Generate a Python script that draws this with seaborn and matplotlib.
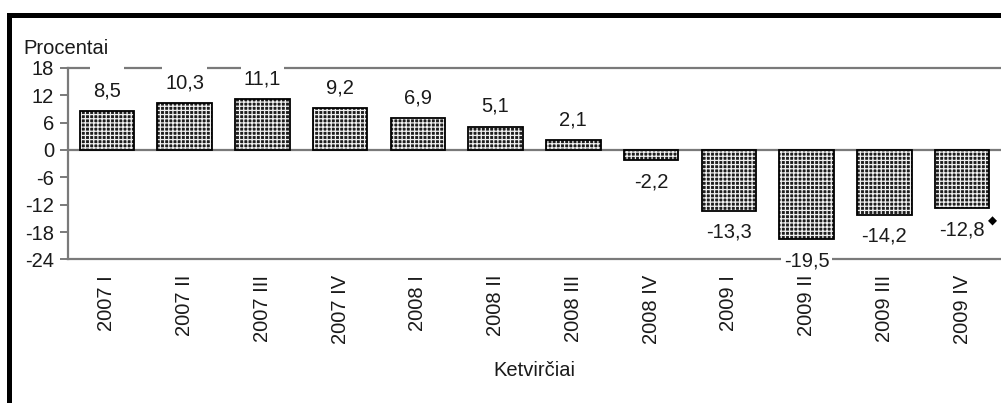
import matplotlib
matplotlib.use("Agg")
import matplotlib.pyplot as plt
from matplotlib.lines import Line2D
import pandas as pd
import seaborn as sns

# Quarterly change, percent
quarters = ["2007 I", "2007 II", "2007 III", "2007 IV",
            "2008 I", "2008 II", "2008 III", "2008 IV",
            "2009 I", "2009 II", "2009 III", "2009 IV"]
growth = [8.5, 10.3, 11.1, 9.2, 6.9, 5.1, 2.1, -2.2, -13.3, -19.5, -14.2, -12.8]
value_labels = ["8,5", "10,3", "11,1", "9,2", "6,9", "5,1", "2,1",
                "-2,2", "-13,3", "-19,5", "-14,2", "-12,8"]
y_ticks = [18, 12, 6, 0, -6, -12, -18, -24]
y_title = "Procentai"
x_title = "Ketvirčiai"
preliminary_mark = "◆"

# labels whose white box breaks the top line
tall_boxes = {0, 1, 2}

sns.set_theme(style="white")
plt.rcParams["font.family"] = ["Liberation Sans", "DejaVu Sans"]
plt.rcParams["hatch.linewidth"] = 0.9

GRAY = "#7a7a7a"
TEXT = "#1a1a1a"
FS = 14.5

df = pd.DataFrame({"quarter": quarters, "growth": growth})

fig = plt.figure(figsize=(10.01, 4.03), dpi=100)
ax = fig.add_axes([0.0679, 0.3561, 0.9321, 0.4757])

# checked fill: dark face with a light grid hatch
sns.barplot(data=df, x="quarter", y="growth", ax=ax, color="#1e1e1e",
            edgecolor="#f0f0f0", linewidth=0, hatch="++++", width=0.7,
            saturation=1, errorbar=None, zorder=2)
# black outline on top
sns.barplot(data=df, x="quarter", y="growth", ax=ax, color="black",
            fill=False, linewidth=1.3, width=0.7, errorbar=None, zorder=2.2)

ax.set_xlim(-0.5, 11.5)
ax.set_ylim(-24, 18)
ax.set_yticks(y_ticks)
ax.set_yticklabels([str(t) for t in y_ticks])

ax.axhline(0, color=GRAY, lw=1.6, zorder=2.1)

for side in ("top", "bottom", "left"):
    ax.spines[side].set_color(GRAY)
    ax.spines[side].set_linewidth(1.6)
    ax.spines[side].set_visible(True)
ax.spines["right"].set_visible(False)

ax.tick_params(axis="y", left=True, length=6, width=1.4, color=GRAY,
               direction="out", pad=4, labelsize=FS, labelcolor=TEXT)
ax.tick_params(axis="x", bottom=False, length=0, pad=11, labelsize=FS,
               labelcolor=TEXT, labelrotation=90)
for lab in ax.get_xticklabels():
    lab.set_va("top")
    lab.set_ha("center")

ax.set_xlabel(x_title, fontsize=FS, color=TEXT, labelpad=12)
ax.set_ylabel("")
fig.text(0.023, 1 - 49 / 403, y_title, fontsize=FS, color=TEXT,
         ha="left", va="center")

box = dict(boxstyle="square,pad=0.15", facecolor="white", edgecolor="none")
for i, (v, lab) in enumerate(zip(growth, value_labels)):
    if v >= 0:
        text = "\n" + lab if i in tall_boxes else lab
        ax.annotate(text, xy=(i, v), xytext=(0, 10.6), textcoords="offset points",
                    ha="center", va="baseline", fontsize=FS, color=TEXT,
                    bbox=box, zorder=4, annotation_clip=False)
    else:
        ax.annotate(lab, xy=(i, v), xytext=(0, -19.5), textcoords="offset points",
                    ha="center", va="baseline", fontsize=FS, color=TEXT,
                    bbox=box, zorder=4, annotation_clip=False)

# preliminary-data mark next to the last value
last = len(growth) - 1
ax.annotate(preliminary_mark, xy=(last, growth[last]), xytext=(22, -9),
            textcoords="offset points", ha="center", va="center",
            fontsize=8.5, color="black", family=["DejaVu Sans"],
            annotation_clip=False, zorder=5)

# outer frame (top and left edges)
fig.add_artist(Line2D([0.0092, 0.0092], [0.0, 0.964], transform=fig.transFigure,
                      color="black", lw=3.6, solid_capstyle="projecting"))
fig.add_artist(Line2D([0.0092, 1.0], [0.964, 0.964], transform=fig.transFigure,
                      color="black", lw=3.6, solid_capstyle="projecting"))

fig.savefig("out.png", dpi=100, facecolor="white")
